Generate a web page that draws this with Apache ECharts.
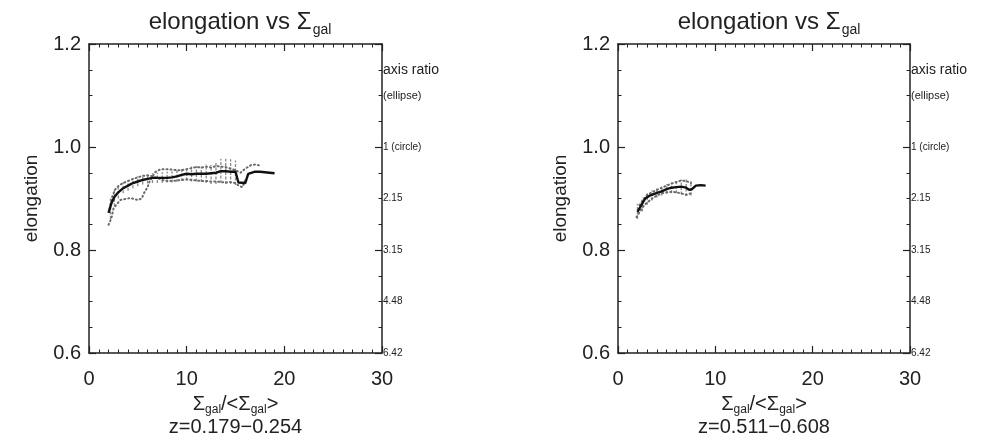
<!DOCTYPE html>
<html>
<head>
<meta charset="utf-8">
<script src="https://cdn.jsdelivr.net/npm/echarts@6/dist/echarts.min.js"></script>
<style>
  html, body { margin: 0; padding: 0; background: #fff; }
  #chart { width: 983px; height: 444px; }
</style>
</head>
<body>
<div id="chart"></div>
<script>
// left panel: z = 0.179 - 0.254
const leftMedX = [2.0, 2.3, 2.6, 3.0, 3.5, 4.0, 4.5, 5.0, 5.5, 6.0, 6.5, 7.0, 7.5, 8.0, 8.5, 9.0, 9.5, 10.0, 10.5, 11.0, 11.5, 12.0, 12.5, 13.0, 13.5, 14.0, 14.5, 15.0, 15.3, 15.5, 16.0, 16.3, 16.5, 17.0, 17.5, 18.0, 18.5, 19.0];
const leftMedY = [0.872, 0.891, 0.903, 0.912, 0.920, 0.925, 0.930, 0.933, 0.936, 0.938, 0.940, 0.940, 0.940, 0.940, 0.941, 0.943, 0.946, 0.948, 0.947, 0.948, 0.948, 0.948, 0.949, 0.950, 0.953, 0.953, 0.952, 0.952, 0.931, 0.930, 0.930, 0.948, 0.951, 0.952, 0.952, 0.951, 0.950, 0.949];
const leftDotAX = [2.0, 2.3, 2.5, 2.8, 3.2, 3.7, 4.2, 4.6, 5.0, 5.4, 5.7, 6.0, 6.2, 6.5, 6.7, 7.0, 7.4, 8.0, 8.5, 9.0, 9.5, 10.0, 10.5, 11.0, 11.5, 12.0, 12.5, 13.0, 13.5, 14.0, 14.5, 15.0, 15.5, 16.0, 16.6, 17.0, 17.5];
const leftDotAY = [0.849, 0.862, 0.880, 0.888, 0.897, 0.899, 0.901, 0.899, 0.897, 0.900, 0.913, 0.922, 0.933, 0.942, 0.950, 0.954, 0.957, 0.957, 0.956, 0.955, 0.955, 0.957, 0.959, 0.961, 0.960, 0.962, 0.960, 0.963, 0.962, 0.961, 0.958, 0.955, 0.950, 0.958, 0.965, 0.966, 0.964];
const leftDotBX = [2.1, 2.4, 2.7, 3.1, 3.5, 4.0, 4.5, 5.0, 5.5, 6.0, 6.5, 7.0, 7.5, 8.0, 8.5, 9.0, 9.5, 10.0, 10.5, 11.0, 11.5, 12.0, 12.5, 13.0, 13.5, 14.0, 14.5, 15.0, 15.4, 15.7, 16.0];
const leftDotBY = [0.880, 0.905, 0.918, 0.926, 0.930, 0.934, 0.938, 0.941, 0.944, 0.945, 0.943, 0.940, 0.936, 0.934, 0.934, 0.935, 0.936, 0.937, 0.936, 0.935, 0.934, 0.934, 0.933, 0.933, 0.932, 0.931, 0.932, 0.930, 0.924, 0.922, 0.935];
const leftErrX = [2.2, 2.6, 3.0, 3.5, 4.0, 4.5, 5.0, 5.5, 6.0, 6.5, 7.0, 7.5, 8.0, 8.5, 9.0, 9.5, 10.0, 10.5, 11.0, 11.5, 12.0, 12.5, 13.0, 13.5, 14.0, 14.5, 15.0];
const leftErrLo = [0.860, 0.885, 0.900, 0.910, 0.915, 0.920, 0.924, 0.927, 0.929, 0.930, 0.930, 0.930, 0.931, 0.931, 0.932, 0.934, 0.935, 0.933, 0.933, 0.932, 0.930, 0.928, 0.928, 0.930, 0.928, 0.928, 0.926];
const leftErrHi = [0.900, 0.918, 0.925, 0.932, 0.936, 0.940, 0.943, 0.945, 0.947, 0.949, 0.950, 0.951, 0.952, 0.953, 0.955, 0.958, 0.960, 0.962, 0.963, 0.962, 0.966, 0.965, 0.972, 0.977, 0.977, 0.976, 0.974];

// right panel: z = 0.511 - 0.608
const rightMedX = [2.0, 2.4, 2.8, 3.2, 3.6, 4.0, 4.5, 5.0, 5.5, 6.0, 6.5, 7.0, 7.3, 7.6, 8.0, 8.5, 9.0];
const rightMedY = [0.874, 0.887, 0.900, 0.905, 0.908, 0.911, 0.914, 0.918, 0.921, 0.922, 0.923, 0.921, 0.917, 0.918, 0.925, 0.926, 0.925];
const rightDotAX = [2.2, 2.6, 3.0, 3.5, 4.0, 4.5, 5.0, 5.5, 6.0, 6.5, 7.0, 7.5];
const rightDotAY = [0.887, 0.898, 0.907, 0.912, 0.917, 0.921, 0.925, 0.929, 0.932, 0.935, 0.934, 0.930];
const rightDotBX = [1.9, 2.3, 2.7, 3.0, 3.5, 4.0, 4.5, 5.0, 5.5, 6.0, 6.5, 7.0, 7.5];
const rightDotBY = [0.864, 0.876, 0.887, 0.892, 0.900, 0.906, 0.910, 0.912, 0.913, 0.912, 0.910, 0.907, 0.910];
const rightErrX = [2.0, 2.5, 3.0, 3.5, 4.0, 4.5, 5.0, 5.5, 6.0, 6.5, 7.0, 7.5];
const rightErrLo = [0.860, 0.875, 0.888, 0.896, 0.902, 0.906, 0.909, 0.910, 0.910, 0.908, 0.905, 0.906];
const rightErrHi = [0.890, 0.902, 0.910, 0.916, 0.920, 0.924, 0.928, 0.931, 0.934, 0.937, 0.938, 0.934];

const xTicks = [0, 10, 20, 30];
const yTicks = [0.6, 0.8, 1.0, 1.2];
const ratioLabels = { '1.15': 'axis ratio', '1.1': '(ellipse)', '1': '1 (circle)', '0.9': '2.15', '0.8': '3.15', '0.7': '4.48', '0.6': '6.42' };
const ratioValues = [0.6, 0.7, 0.8, 0.9, 1.0, 1.1, 1.15];
const zRanges = ['z=0.179\u22120.254', 'z=0.511\u22120.608'];

const FONT = 'Liberation Sans';
const INK = '#222';

const zip = (xs, ys) => xs.map((x, i) => [x, ys[i]]);

function errRender(params, api) {
   const x = api.value(0);
   const p1 = api.coord([x, api.value(1)]);
   const p2 = api.coord([x, api.value(2)]);
   return {
      type: 'line',
      shape: { x1: p1[0], y1: p1[1], x2: p2[0], y2: p2[1] },
      style: { stroke: '#8a8a8a', lineWidth: 1.3, lineDash: [3, 1.5] }
   };
}

// fresh objects for every axis, ticks pointing into the box
function frame(splitNumber) {
   return {
      axisLine: { show: true, onZero: false, lineStyle: { color: INK, width: 1.5 } },
      axisTick: { show: true, inside: true, length: 7, lineStyle: { color: INK, width: 1.2 } },
      minorTick: { show: true, splitNumber: splitNumber, length: 3.5, lineStyle: { color: INK, width: 1 } },
      splitLine: { show: false },
      minorSplitLine: { show: false }
   };
}

const panels = [
   { med: zip(leftMedX, leftMedY), a: zip(leftDotAX, leftDotAY), b: zip(leftDotBX, leftDotBY),
     err: leftErrX.map((x, i) => [x, leftErrLo[i], leftErrHi[i]]), left: 89, right: 601, cx: 235 },
   { med: zip(rightMedX, rightMedY), a: zip(rightDotAX, rightDotAY), b: zip(rightDotBX, rightDotBY),
     err: rightErrX.map((x, i) => [x, rightErrLo[i], rightErrHi[i]]), left: 618, right: 73, cx: 764 }
];

const grid = [], xAxis = [], yAxis = [], series = [], title = [];

panels.forEach((p, i) => {
   grid.push({ left: p.left, right: p.right, top: 44, bottom: 91 });
   title.push({
      text: '{a|elongation vs \u03A3}{s|gal}',
      left: p.cx, top: 2, textAlign: 'center',
      textStyle: {
         fontWeight: 'normal',
         rich: {
            a: { fontFamily: FONT, fontSize: 24, fontWeight: 'normal', color: INK, lineHeight: 30 },
            s: { fontFamily: FONT, fontSize: 14, fontWeight: 'normal', color: INK, lineHeight: 30, verticalAlign: 'bottom', padding: [10, 0, 0, 1] }
         }
      }
   });
   xAxis.push(Object.assign(frame(10), {
      type: 'value', gridIndex: i, min: 0, max: 30, interval: 10, position: 'bottom',
      axisLabel: { fontFamily: FONT, fontSize: 20, color: INK, margin: 16, customValues: xTicks },
      name: '{a|\u03A3}{s|gal}{a|/<\u03A3}{s|gal}{a|>}\n{a|' + zRanges[i] + '}',
      nameLocation: 'middle', nameGap: 40,
      nameTextStyle: {
         align: 'center',
         rich: {
            a: { fontFamily: FONT, fontSize: 20, color: INK, lineHeight: 23 },
            s: { fontFamily: FONT, fontSize: 12, color: INK, lineHeight: 23, verticalAlign: 'bottom', padding: [8, 0, 0, 0] }
         }
      }
   }));
   xAxis.push(Object.assign(frame(10), {
      type: 'value', gridIndex: i, min: 0, max: 30, interval: 10, position: 'top',
      axisLabel: { show: false }
   }));
   yAxis.push(Object.assign(frame(4), {
      type: 'value', gridIndex: i, min: 0.6, max: 1.2, interval: 0.2, position: 'left',
      axisLabel: { fontFamily: FONT, fontSize: 20, color: INK, margin: 8,
         customValues: yTicks, formatter: v => v.toFixed(1) },
      name: 'elongation', nameLocation: 'middle', nameGap: 48, nameRotate: 90,
      nameTextStyle: { fontFamily: FONT, fontSize: 19, color: INK }
   }));
   yAxis.push(Object.assign(frame(4), {
      type: 'value', gridIndex: i, min: 0.6, max: 1.2, interval: 0.2, position: 'right',
      axisLabel: {
         customValues: ratioValues, margin: 1, color: INK, fontFamily: FONT, fontSize: 10,
         formatter: v => {
            const t = ratioLabels[String(Math.round(v * 100) / 100)] || '';
            if (v > 1.12) return '{big|' + t + '}';
            if (v > 1.05) return '{mid|' + t + '}';
            return t;
         },
         rich: {
            big: { fontFamily: FONT, fontSize: 14, color: INK },
            mid: { fontFamily: FONT, fontSize: 11, color: INK }
         }
      }
   }));

   const xi = i * 2, yi = i * 2;
   series.push({
      type: 'custom', xAxisIndex: xi, yAxisIndex: yi, renderItem: errRender,
      data: p.err, encode: { x: 0, y: [1, 2] }, z: 1
   });
   series.push({
      type: 'line', xAxisIndex: xi, yAxisIndex: yi, data: p.a, showSymbol: false,
      lineStyle: { color: '#6a6a6a', width: 2, type: [1, 3], cap: 'round' }, z: 2
   });
   series.push({
      type: 'line', xAxisIndex: xi, yAxisIndex: yi, data: p.b, showSymbol: false,
      lineStyle: { color: '#6a6a6a', width: 2, type: [1, 3], cap: 'round' }, z: 2
   });
   series.push({
      type: 'line', xAxisIndex: xi, yAxisIndex: yi, data: p.med, showSymbol: false,
      lineStyle: { color: '#111', width: 2.4 }, z: 3
   });
});

const chart = echarts.init(document.getElementById('chart'), null, { renderer: 'canvas' });
chart.setOption({
   backgroundColor: '#fff',
   animation: false,
   title, grid, xAxis, yAxis, series
});
</script>
</body>
</html>
